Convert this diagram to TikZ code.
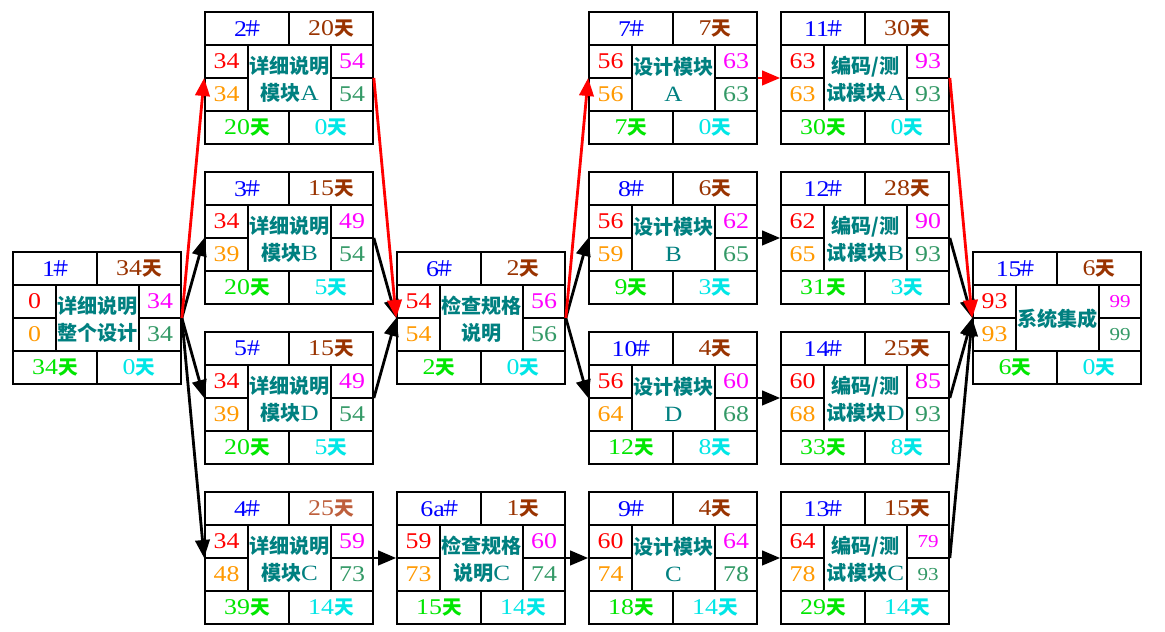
\documentclass[tikz,border=0pt]{standalone}
\usepackage{fontspec}
\usepackage{xcolor}
\usepackage{tikz}
\usetikzlibrary{arrows.meta,positioning}
\setmainfont{Liberation Serif}[FakeStretch=1.15]
\newfontfamily\cjkfont{Noto Sans CJK SC}

\definecolor{idblue}{RGB}{0,0,255}
\definecolor{durbrown}{RGB}{153,51,0}
\definecolor{durlight}{RGB}{190,95,60}
\definecolor{esred}{RGB}{255,0,0}
\definecolor{lsorange}{RGB}{255,153,0}
\definecolor{efpink}{RGB}{255,0,255}
\definecolor{lfgreen}{RGB}{51,153,102}
\definecolor{nameteal}{RGB}{0,128,128}
\definecolor{tfgreen}{RGB}{0,230,0}
\definecolor{ffcyan}{RGB}{0,230,230}

\newcommand{\numsz}{\fontsize{16}{18}\selectfont}
\newcommand{\smallnum}{\fontsize{13}{15}\selectfont}
\newcommand{\hs}{{\cjkfont\fontsize{15}{17}\selectfont\kern-0.22em ＃\kern-0.18em}}
\newcommand{\tian}{{\cjkfont\bfseries\fontsize{14}{16}\selectfont 天}}
\newcommand{\lat}{\normalfont\fontsize{15.5}{19}\selectfont}

\begin{document}
\begin{tikzpicture}[
    box/.style={rectangle, draw=black, line width=1.2pt, fill=white,
                minimum width=4.2cm, minimum height=3.3cm, inner sep=0pt},
    grid/.style={draw=black, line width=1.2pt},
    cell/.style={inner sep=0pt, font=\numsz},
    nametxt/.style={inner sep=0pt, align=center, text=nameteal,
                    font=\cjkfont\bfseries\fontsize{14.3}{19}\selectfont},
    link/.style={-{Triangle[length=4.5mm,width=3.6mm]}, line width=2pt, draw=black},
    crit/.style={link, draw=red}
]
\useasboundingbox (0,0) rectangle (29.125,15.8);

% activity boxes: name/x/y/id/duration/ES/LS/text/EF/LF/total float/free float
\foreach \n/\x/\y/\id/\dur/\es/\ls/\txt/\ef/\lf/\tf/\ff in {
  t1/2.425/7.85/1\hs/34/0/0/{详细说明\\整个设计}/34/34/34/0,
  t2/7.225/13.85/2\hs/20/34/34/{详细说明\\模块\lat A}/54/54/20/0,
  t3/7.225/9.85/3\hs/15/34/39/{详细说明\\模块\lat B}/49/54/20/5,
  t5/7.225/5.85/5\#/15/34/39/{详细说明\\模块\lat D}/49/54/20/5,
  t4/7.225/1.85/4\hs/\color{durlight}25/34/48/{详细说明\\模块\lat C}/59/73/39/14,
  t6/12.025/7.85/6\hs/2/54/54/{检查规格\\说明}/56/56/2/0,
  t6a/12.025/1.85/6a\hs/1/59/73/{检查规格\\说明\lat C}/60/74/15/14,
  t7/16.825/13.85/7\hs/7/56/56/{设计模块\\\lat A}/63/63/7/0,
  t8/16.825/9.85/8\hs/6/56/59/{设计模块\\\lat B}/62/65/9/3,
  t10/16.825/5.85/10\hs/4/56/64/{设计模块\\\lat D}/60/68/12/8,
  t9/16.825/1.85/9\hs/4/60/74/{设计模块\\\lat C}/64/78/18/14,
  t11/21.625/13.85/11\hs/30/63/63/{编码/测\\试模块\lat A}/93/93/30/0,
  t12/21.625/9.85/12\hs/28/62/65/{编码/测\\试模块\lat B}/90/93/31/3,
  t14/21.625/5.85/14\hs/25/60/68/{编码/测\\试模块\lat D}/85/93/33/8,
  t13/21.625/1.85/13\hs/15/64/78/{编码/测\\试模块\lat C}/{\smallnum 79}/{\smallnum 93}/29/14,
  t15/26.425/7.85/15\hs/6/93/93/{系统集成}/{\smallnum 99}/{\smallnum 99}/6/0}{
  \begin{scope}[shift={(\x,\y)}]
    \node[box] (\n) at (0,0) {};
    \draw[grid] (-2.1,0.825) -- (2.1,0.825) (-2.1,-0.825) -- (2.1,-0.825)
      (0,0.825) -- (0,1.65) (0,-0.825) -- (0,-1.65)
      (-1.025,0.825) -- (-1.025,-0.825) (1.05,0.825) -- (1.05,-0.825)
      (-2.1,0) -- (-1.025,0) (1.05,0) -- (2.1,0);
    \node[cell, text=idblue] (\n-id) at (-1.05,1.2375) {\id};
    \node[cell, text=durbrown] (\n-dur) at (1.05,1.2375) {\dur\tian};
    \node[cell, text=esred] (\n-es) at (-1.5625,0.4125) {\es};
    \node[cell, text=lsorange] (\n-ls) at (-1.5625,-0.4125) {\ls};
    \node[cell, text=efpink] (\n-ef) at (1.575,0.4125) {\ef};
    \node[cell, text=lfgreen] (\n-lf) at (1.575,-0.4125) {\lf};
    \node[nametxt] (\n-txt) at (0.0125,-0.03) {\txt};
    \node[cell, text=tfgreen] (\n-tf) at (-1.05,-1.2375) {\tf\tian};
    \node[cell, text=ffcyan] (\n-ff) at (1.05,-1.2375) {\ff\tian};
  \end{scope}
}

% links
\draw[link] (t1.east) -- (t3.west);
\draw[link] (t1.east) -- (t5.west);
\draw[link] (t1.east) -- (t4.west);
\draw[link] (t3.east) -- (t6.west);
\draw[link] (t5.east) -- (t6.west);
\draw[link] (t4.east) -- (t6a.west);
\draw[link] (t6.east) -- (t8.west);
\draw[link] (t6.east) -- (t10.west);
\draw[link] (t6a.east) -- (t9.west);
\draw[link] (t8.east) -- (t12.west);
\draw[link] (t10.east) -- (t14.west);
\draw[link] (t9.east) -- (t13.west);
\draw[link] (t12.east) -- (t15.west);
\draw[link] (t14.east) -- (t15.west);
\draw[link] (t13.east) -- (t15.west);

% critical path
\draw[crit] (t1.east) -- (t2.west);
\draw[crit] (t2.east) -- (t6.west);
\draw[crit] (t6.east) -- (t7.west);
\draw[crit] (t7.east) -- (t11.west);
\draw[crit] (t11.east) -- (t15.west);

\end{tikzpicture}
\end{document}
